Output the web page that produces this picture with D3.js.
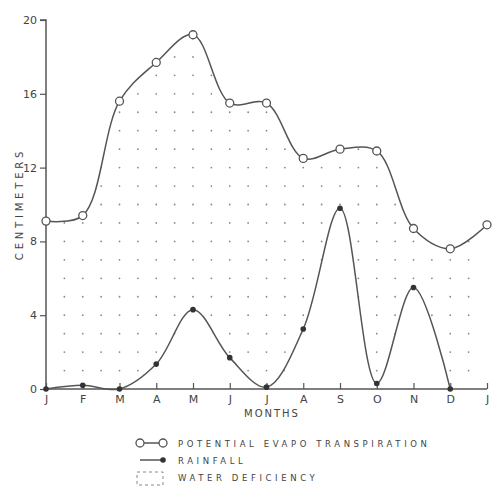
<!DOCTYPE html>
<html>
<head>
<meta charset="utf-8">
<script src="https://cdn.jsdelivr.net/npm/d3@7"></script>
<style>
  body { margin: 0; background: #fff; }
  text { font-family: "DejaVu Sans", sans-serif; fill: #444; }
</style>
</head>
<body>
<div id="app"></div>
<script>
const months = ['J', 'F', 'M', 'A', 'M', 'J', 'J', 'A', 'S', 'O', 'N', 'D', 'J'];
// potential evapo transpiration (cm), Jan .. next Jan
const pet = [9.1, 9.4, 15.6, 17.7, 19.2, 15.5, 15.5, 12.5, 13.0, 12.9, 8.7, 7.6, 8.9];
// rainfall (cm), Jan .. Dec
const rainfall = [0, 0.2, 0, 1.35, 4.3, 1.7, 0.1, 3.25, 9.8, 0.3, 5.5, 0];
const yTicks = [0, 4, 8, 12, 16, 20];

const width = 492, height = 498;
const margin = { left: 46, right: 5, top: 20, bottom: 109 };

const svg = d3.select('#app').append('svg').attr('width', width).attr('height', height);

const x = d3.scaleLinear([0, 12], [margin.left, width - margin.right]);
const y = d3.scaleLinear([0, 20], [height - margin.bottom, margin.top]);
const ink = '#555';

const petLine = d3.line().x((d, i) => x(i)).y(d => y(d)).curve(d3.curveCatmullRom);
const rainLine = d3.line().x((d, i) => x(i)).y(d => y(d)).curve(d3.curveCatmullRom);

// water deficiency mask: under PET, not under rainfall
const defs = svg.append('defs');
const mask = defs.append('mask').attr('id', 'deficit');
mask.append('path')
  .attr('d', d3.area().x((d, i) => x(i)).y0(y(0)).y1(d => y(d)).curve(d3.curveCatmullRom)(pet))
  .attr('fill', '#fff');
mask.append('path')
  .attr('d', d3.area().x((d, i) => x(i)).y0(y(0) + 3).y1(d => y(d) + 3).curve(d3.curveCatmullRom)(rainfall))
  .attr('fill', '#000');

const dots = [];
for (let m = 1; m < 24; m++) {
  for (let v = 1; v < 20; v++) dots.push([m / 2, v]);
}
svg.append('g').attr('mask', 'url(#deficit)')
  .selectAll('circle').data(dots).join('circle')
  .attr('cx', d => x(d[0])).attr('cy', d => y(d[1]))
  .attr('r', 0.9).attr('fill', '#888');

// axes
const yAxis = svg.append('g').attr('transform', `translate(${x(0)},0)`)
  .call(d3.axisLeft(y).tickValues(yTicks).tickSize(6).tickPadding(3).tickFormat(d3.format('d')));
const xAxis = svg.append('g').attr('transform', `translate(0,${y(0)})`)
  .call(d3.axisBottom(x).tickValues(d3.range(13)).tickSize(-6).tickPadding(6).tickFormat(i => months[i]));
[yAxis, xAxis].forEach(a => {
  a.select('.domain').attr('stroke', ink).attr('stroke-width', 1.5);
  a.selectAll('line').attr('stroke', ink).attr('stroke-width', 1.2);
  a.selectAll('text').attr('font-size', 11).attr('fill', '#444').attr('font-family', '"DejaVu Sans", sans-serif');
});
yAxis.select('.domain').attr('d', `M-6,${y(20)}H0V${y(0)}`);
xAxis.select('.domain').attr('d', `M${x(0)},0H${x(12)}`);

svg.append('text')
  .attr('transform', `translate(23,204) rotate(-90)`)
  .attr('text-anchor', 'middle').attr('font-size', 10).attr('letter-spacing', 3.8)
  .text('CENTIMETERS');
svg.append('text')
  .attr('x', 272).attr('y', y(0) + 28)
  .attr('text-anchor', 'middle').attr('font-size', 10).attr('letter-spacing', 2)
  .text('MONTHS');

// series
svg.append('path').attr('d', petLine(pet)).attr('fill', 'none').attr('stroke', ink).attr('stroke-width', 1.5);
svg.append('path').attr('d', rainLine(rainfall)).attr('fill', 'none').attr('stroke', ink).attr('stroke-width', 1.5);
svg.append('g').selectAll('circle').data(pet).join('circle')
  .attr('cx', (d, i) => x(i)).attr('cy', d => y(d)).attr('r', 4)
  .attr('fill', '#fff').attr('stroke', ink).attr('stroke-width', 1.3);
svg.append('g').selectAll('circle').data(rainfall).join('circle')
  .attr('cx', (d, i) => x(i)).attr('cy', d => y(d)).attr('r', 2.8)
  .attr('fill', '#333');

// legend
const legend = svg.append('g').attr('transform', 'translate(140,443)');
const legendItems = ['POTENTIAL EVAPO TRANSPIRATION', 'RAINFALL', 'WATER DEFICIENCY'];
legend.append('line').attr('x1', 0).attr('x2', 23).attr('y1', 0).attr('y2', 0).attr('stroke', ink).attr('stroke-width', 1.5);
legend.selectAll('circle.pet').data([0, 23]).join('circle').attr('class', 'pet')
  .attr('cx', d => d).attr('cy', 0).attr('r', 4).attr('fill', '#fff').attr('stroke', ink).attr('stroke-width', 1.3);
legend.append('line').attr('x1', 0).attr('x2', 23).attr('y1', 17).attr('y2', 17).attr('stroke', ink).attr('stroke-width', 1.5);
legend.append('circle').attr('cx', 23).attr('cy', 17).attr('r', 2.8).attr('fill', '#333');
legend.append('rect').attr('x', -3).attr('y', 29).attr('width', 26).attr('height', 13)
  .attr('fill', 'none').attr('stroke', '#888').attr('stroke-width', 1).attr('stroke-dasharray', '3,3');
legend.selectAll('text').data(legendItems).join('text')
  .attr('x', 38).attr('y', (d, i) => i * 17 + 3.5)
  .attr('font-size', 8.5).attr('letter-spacing', 3.6)
  .text(d => d);
</script>
</body>
</html>
